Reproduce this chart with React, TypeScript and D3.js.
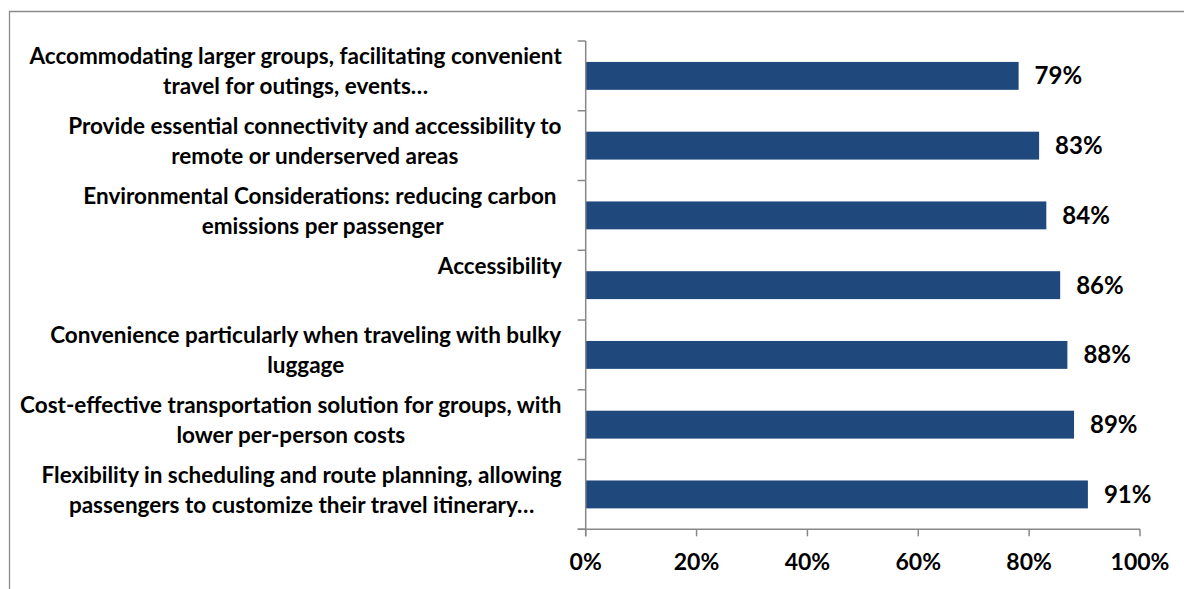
import * as d3 from 'd3'

// categories, top to bottom (lines as wrapped in the chart)
const categories: string[][] = [
  ['Accommodating larger groups, facilitating convenient', 'travel for outings, events…'],
  ['Provide essential connectivity and accessibility to', 'remote or underserved areas'],
  ['Environmental Considerations: reducing carbon ', 'emissions per passenger'],
  ['Accessibility'],
  ['Convenience particularly when traveling with bulky', 'luggage'],
  ['Cost-effective transportation solution for groups, with', 'lower per-person costs'],
  ['Flexibility in scheduling and route planning, allowing', 'passengers to customize their travel itinerary…'],
]
const values = [78.1, 81.8, 83.1, 85.6, 86.9, 88.1, 90.6]
const valueLabels = ['79%', '83%', '84%', '86%', '88%', '89%', '91%']
const ticks = [0, 20, 40, 60, 80, 100]

const W = 1184
const H = 589
const FONT = 'Lato, "Open Sans", sans-serif'
const LABEL_SIZE = 22.5

// measure text so each wrapped label can be centred inside a right-aligned block
const ctx = document.createElement('canvas').getContext('2d') as CanvasRenderingContext2D
ctx.font = `700 ${LABEL_SIZE}px Lato`
const measure = (s: string) => ctx.measureText(s).width

export default function App() {
  const x0 = 585.7
  const x1 = 1140
  const top = 41
  const bottom = 529.3
  const labelRight = 562

  const x = d3.scaleLinear().domain([0, 100]).range([x0, x1])
  const idx = categories.map((_, i) => String(i))
  const y = d3.scaleBand().domain(idx).range([top, bottom]).paddingInner(0.6).paddingOuter(0.3)
  const step = (bottom - top) / categories.length
  const bw = y.bandwidth()

  return (
    <svg
      width={W}
      height={H}
      style={{ position: 'absolute', left: 0, top: 0, background: '#fff' }}
      fontFamily={FONT}
      fontWeight={700}
    >
      <rect x={0} y={0} width={W} height={H} fill="#fff" />
      {/* chart frame (clipped at right and bottom) */}
      <path d={`M9.5,${H + 5} V11.5 H${W + 5}`} fill="none" stroke="#8a8a8a" strokeWidth={1.3} />

      {/* bars */}
      {values.map((v, i) => (
        <rect
          key={'b' + i}
          x={x(0)}
          y={y(String(i))}
          width={x(v) - x(0)}
          height={bw}
          fill="#1f497d"
        />
      ))}

      {/* y axis */}
      <line x1={x0} x2={x0} y1={top} y2={bottom + 7} stroke="#888" strokeWidth={1.5} />
      {d3.range(categories.length + 1).map((i) => (
        <line
          key={'yt' + i}
          x1={x0 - 8}
          x2={x0}
          y1={top + i * step}
          y2={top + i * step}
          stroke="#888"
          strokeWidth={1.5}
        />
      ))}

      {/* x axis */}
      <line x1={x0 - 8} x2={x(100)} y1={bottom} y2={bottom} stroke="#888" strokeWidth={1.5} />
      {ticks.map((t) => (
        <g key={'xt' + t}>
          <line x1={x(t)} x2={x(t)} y1={bottom} y2={bottom + 7} stroke="#888" strokeWidth={1.5} />
          <text x={x(t)} y={570} textAnchor="middle" fontSize={23} fill="#000">
            {t + '%'}
          </text>
        </g>
      ))}

      {/* category labels */}
      {categories.map((lines, i) => {
        const cy = (y(String(i)) as number) + bw / 2
        const blockW = d3.max(lines, (ln) => measure(ln)) as number
        const cx = labelRight - blockW / 2
        return (
          <text
            key={'c' + i}
            textAnchor="middle"
            fontSize={LABEL_SIZE}
            fill="#000"
            style={{ whiteSpace: 'pre' }}
          >
            {lines.map((ln, j) => (
              <tspan key={j} x={cx} y={cy - 19.5 + 30 * j} dy="0.35em">
                {ln}
              </tspan>
            ))}
          </text>
        )
      })}

      {/* value labels */}
      {values.map((v, i) => (
        <text
          key={'v' + i}
          x={x(v) + 16}
          y={(y(String(i)) as number) + bw / 2}
          dy="0.35em"
          fontSize={24}
          fill="#000"
        >
          {valueLabels[i]}
        </text>
      ))}
    </svg>
  )
}
